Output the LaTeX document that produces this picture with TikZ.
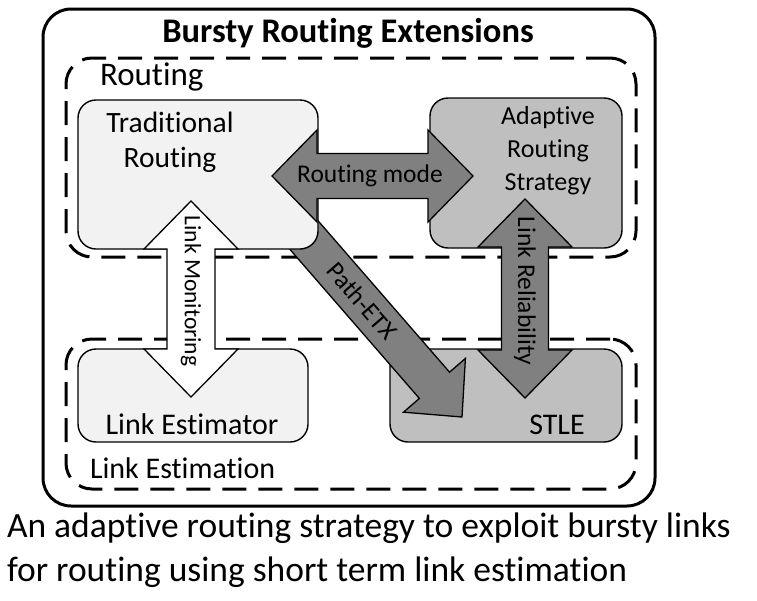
\documentclass[tikz,border=0pt]{standalone}
\usepackage{fontspec}
\setmainfont{Carlito}[Ligatures={NoCommon}]
\usetikzlibrary{calc}
\definecolor{boxlight}{HTML}{F2F2F2}
\definecolor{boxdark}{HTML}{BFBFBF}
\definecolor{arrowgray}{HTML}{808080}
\newcommand\dblblock[6][]{%
  \coordinate (tmpa) at ($(#2)!#4!(#3)$);
  \coordinate (tmpb) at ($(#3)!#4!(#2)$);
  \draw[blockarrow,#1] (#2) -- ($(tmpa)!#5!90:(#3)$) -- ($(tmpa)!#6!90:(#3)$)
    -- ($(tmpb)!#6!-90:(#2)$) -- ($(tmpb)!#5!-90:(#2)$) -- (#3)
    -- ($(tmpb)!#5!90:(#2)$) -- ($(tmpb)!#6!90:(#2)$)
    -- ($(tmpa)!#6!-90:(#3)$) -- ($(tmpa)!#5!-90:(#3)$) -- cycle;}
\newcommand\sglblock[6][]{%
  \coordinate (tmpb) at ($(#3)!#4!(#2)$);
  \draw[blockarrow,#1] ($(#2)!#6!90:(#3)$) -- ($(tmpb)!#6!-90:(#2)$)
    -- ($(tmpb)!#5!-90:(#2)$) -- (#3) -- ($(tmpb)!#5!90:(#2)$)
    -- ($(tmpb)!#6!90:(#2)$) -- ($(#2)!#6!-90:(#3)$) -- cycle;}
\begin{document}
\begin{tikzpicture}[x=1pt,y=-1pt,
  every node/.style={inner sep=0pt, outer sep=0pt},
  outerbox/.style={draw=black, line width=3pt, rounded corners=28pt, anchor=north west},
  group/.style={draw=black, line width=3pt, dash pattern=on 24pt off 12pt, rounded corners=26pt, anchor=north west},
  box/.style={draw=black, line width=1.4pt, rounded corners=18pt, anchor=north west},
  lightbox/.style={box, fill=boxlight},
  darkbox/.style={box, fill=boxdark},
  blockarrow/.style={draw=black, line width=1.3pt, fill=arrowgray, line join=miter},
  lbl/.style={font=\fontsize{30}{35}\selectfont},
  albl/.style={font=\fontsize{25.5}{30}\selectfont}]
\useasboundingbox (0,0) rectangle (757,600);
% containers
\node[outerbox, minimum width=612pt, minimum height=497pt] (outer) at (43,9) {};
\node[group, minimum width=570pt, minimum height=199pt] (routing) at (66,58) {};
\node[group, minimum width=570pt, minimum height=150pt] (linkest) at (66,339) {};
% boxes
\node[darkbox, minimum width=192pt, minimum height=150pt] (adaptive) at (430,98) {};
\node[lightbox, minimum width=230pt, minimum height=93pt] (estimator) at (78,349) {};
\node[darkbox, minimum width=232pt, minimum height=93pt] (stle) at (390,349) {};
% Path-ETX arrow (behind Traditional Routing)
\coordinate (petxT) at (277,204);
\coordinate (petxP) at (462,417);
\sglblock{petxT}{petxP}{42pt}{41pt}{20pt}
\node[lightbox, minimum width=240pt, minimum height=149pt] (trad) at (78,100) {};
% double arrows
\coordinate (rmA) at (272,176);
\coordinate (rmB) at (473,176);
\dblblock{rmA}{rmB}{45pt}{46pt}{22.5pt}
\coordinate (lmA) at (191,201);
\coordinate (lmB) at (191,397);
\dblblock[fill=white]{lmA}{lmB}{48pt}{47pt}{24pt}
\coordinate (lrA) at (525,199);
\coordinate (lrB) at (525,398);
\dblblock{lrA}{lrB}{48pt}{47pt}{23.5pt}
% texts
\node[font=\bfseries\fontsize{34.5}{40}\selectfont] (title) at (348,33) {Bursty Routing Extensions};
\node[font=\fontsize{33}{38}\selectfont, anchor=west] (routinglbl) at (100,77) {Routing};
\node[font=\fontsize{29.5}{35}\selectfont, align=center] (tradlbl) at (170,142) {Traditional\\Routing};
\node[font=\fontsize{26}{33}\selectfont, align=center] (adaptlbl) at (548,151) {Adaptive\\Routing\\Strategy};
\node[lbl] (estlbl) at (192,424) {Link Estimator};
\node[lbl] (stlelbl) at (557,425) {STLE};
\node[lbl, anchor=west] (linkestlbl) at (90,468) {Link Estimation};
\node[albl] (rmlbl) at (370,176) {Routing mode};
\node[albl, font=\fontsize{23.5}{30}\selectfont, rotate=-90] (lmlbl) at (191,291) {Link Monitoring};
\node[albl, rotate=-90] (lrlbl) at (525,291) {Link Reliability};
\node[albl, rotate=-49] (petxlbl) at (362,301) {Path-ETX};
\node[font=\fontsize{35.5}{44}\selectfont, align=left, anchor=west] (caption) at (7,550)
  {An adaptive routing strategy to exploit bursty links\\for routing using short term link estimation};
\end{tikzpicture}
\end{document}
